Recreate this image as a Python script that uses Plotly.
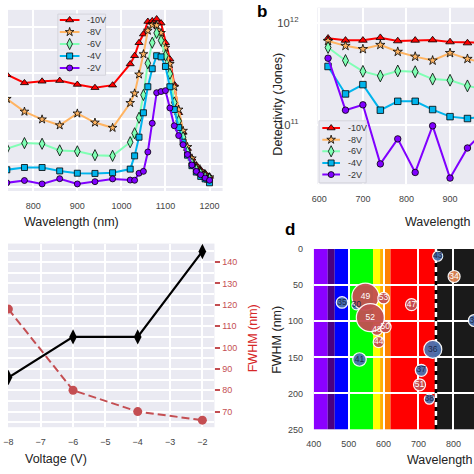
import plotly.graph_objects as go

FONT = "Liberation Sans, Arial, sans-serif"
W = H = 474

# ---------------- data ----------------
series_labels = ["-10V", "-8V", "-6V", "-4V", "-2V"]
series_colors = ["#ff0000", "#ffb462", "#80ffb4", "#00b4ec", "#8000ff"]
series_symbols = ["triangle-up", "star", "diamond-tall", "square", "circle"]

# (a) spectral response (relative units; y tick labels are cropped in the source)
wl_a = [740, 780, 820, 860, 900, 940, 980, 1020, 1030, 1040, 1050, 1060, 1070,
        1080, 1090, 1100, 1110, 1120, 1130, 1140, 1150, 1160, 1170, 1180, 1190, 1200]
a_m10 = [4.93, 4.57, 4.64, 4.67, 4.50, 4.36, 4.47, 5.40, 5.76, 6.33, 6.71, 7.26, 7.29,
         7.37, 7.19, 6.33, 5.61, 4.50, 3.26, 2.40, 1.69, 1.26, 0.97, 0.76, 0.61, 0.47]
a_m8 = [3.87, 3.31, 2.97, 2.71, 3.23, 2.83, 2.60, 3.69, 4.11, 4.94, 5.83, 6.86, 7.11,
        7.09, 6.76, 6.11, 5.40, 4.40, 3.40, 2.47, 1.76, 1.26, 0.90, 0.69, 0.54, 0.43]
a_m6 = [1.69, 1.93, 1.90, 1.61, 1.57, 1.40, 1.37, 1.97, 2.36, 3.04, 4.04, 5.43, 6.33,
        6.76, 6.43, 5.76, 4.97, 3.71, 2.90, 2.19, 1.54, 1.04, 0.76, 0.59, 0.44, 0.36]
a_m4 = [0.76, 0.86, 0.86, 0.71, 0.61, 0.60, 0.63, 0.79, 1.37, 2.19, 3.26, 4.40, 5.19,
        5.76, 5.71, 5.29, 4.40, 3.40, 2.61, 1.97, 1.40, 0.94, 0.66, 0.47, 0.36, 0.19]
a_m2 = [0.19, 0.29, 0.14, 0.37, 0.14, 0.24, 0.36, 0.31, 0.30, 0.61, 0.69, 1.54, 2.80,
        4.14, 4.19, 4.23, 3.47, 2.69, 2.26, 1.86, 1.43, 0.97, 0.69, 0.54, 0.40, 0.30]

# (b) detectivity (Jones)
wl_b = [620, 660, 700, 740, 780, 820, 860, 900, 940, 980]
d_m10 = [7.08e11, 6.76e11, 6.76e11, 7.18e11, 6.67e11, 6.76e11, 6.81e11, 6.52e11, 6.37e11, 6.40e11]
d_m8 = [6.67e11, 5.97e11, 5.55e11, 6.10e11, 5.22e11, 4.68e11, 4.29e11, 5.08e11, 4.45e11, 4.04e11]
d_m6 = [5.75e11, 4.29e11, 3.36e11, 3.03e11, 3.39e11, 3.33e11, 2.82e11, 2.75e11, 2.42e11, 2.24e11]
d_m4 = [3.75e11, 2.02e11, 2.49e11, 1.40e11, 1.71e11, 1.71e11, 1.42e11, 1.21e11, 1.16e11, 1.21e11]
d_m2 = [4.52e11, 1.40e11, 1.58e11, 4.17e10, 7.33e10, 3.44e10, 9.84e10, 3.03e10, 5.97e10, 8.87e10]

# (c) voltage dependence
volt_c = [-8, -6, -4, -2]
left_c = [86, 105, 105, 145]
fwhm_c = [118, 80, 70, 66]

# (d) literature comparison bubbles
ref_d = ["30", "34", "35", "36", "37", "38", "39", "41", "43", "44", "47", "48", "49", "50", "51", "52", "53"]
wl_d = [522, 802, 481, 741, 708, 731, 860, 531, 755, 586, 680, 581, 548, 605, 703, 562, 600]
fwhm_d = [78, 38, 74, 139, 168, 208, 99, 153, 10, 129, 77, 112, 66, 108, 188, 95, 68]
size_d = [9, 12, 11.5, 18, 12, 10, 12, 13.5, 10, 11, 12, 11, 27, 11.5, 12, 28, 11.5]
group_d = ["b", "o", "b", "b", "b", "b", "b", "b", "b", "r", "r", "r", "r", "r", "r", "r", "r"]
group_fill = {"b": "#4c72b0", "r": "#c44e52", "o": "#dd8452"}
group_text = {"b": "#1b2a4a", "r": "white", "o": "white"}

# visible-spectrum bands (nm)
band_edges = [400, 440, 460, 500, 570, 590, 600, 620, 750, 900]
band_colors = ["#8b00ff", "#4b0082", "#0000ff", "#00ff00", "#ffff00", "#ffb000", "#ff8000", "#ff0000", "#1a1a1a"]
nir_edge = 750

marker_sizes = [7, 6.5, 8, 6, 6]


def px(p):
    return p / W


def py(p):
    return 1 - p / H


fig = go.Figure()

# ---- panel a ----
for lab, col, sym, ys, ms in zip(series_labels, series_colors, series_symbols,
                                 [a_m10, a_m8, a_m6, a_m4, a_m2], marker_sizes):
    fig.add_trace(go.Scatter(x=wl_a, y=ys, mode="lines+markers", name=lab, xaxis="x", yaxis="y",
                             line=dict(color=col, width=2),
                             marker=dict(symbol=sym, size=ms, color=col, line=dict(color="black", width=0.8)),
                             showlegend=False))

# ---- panel b ----
for lab, col, sym, ys, ms in zip(series_labels, series_colors, series_symbols,
                                 [d_m10, d_m8, d_m6, d_m4, d_m2], marker_sizes):
    fig.add_trace(go.Scatter(x=wl_b, y=ys, mode="lines+markers", name=lab, xaxis="x2", yaxis="y2",
                             line=dict(color=col, width=2),
                             marker=dict(symbol=sym, size=ms + 0.5, color=col, line=dict(color="black", width=0.8)),
                             showlegend=False))

# ---- panel c ----
fig.add_trace(go.Scatter(x=volt_c, y=left_c, mode="lines+markers", xaxis="x3", yaxis="y3",
                         line=dict(color="black", width=2.2),
                         marker=dict(symbol="diamond-tall", size=11, color="black"), showlegend=False))
fig.add_trace(go.Scatter(x=volt_c, y=fwhm_c, mode="lines+markers", xaxis="x3", yaxis="y4",
                         line=dict(color="#c44e52", width=2, dash="8px,4px"),
                         marker=dict(symbol="circle", size=9, color="#c44e52"), showlegend=False))

# ---- panel d ----
fig.add_trace(go.Scatter(x=wl_d, y=fwhm_d, mode="markers+text", xaxis="x5", yaxis="y5",
                         text=ref_d, textposition="middle center",
                         textfont=dict(size=8.5, family=FONT, color=[group_text[g] for g in group_d]),
                         marker=dict(size=size_d, sizemode="diameter", opacity=0.95,
                                     color=[group_fill[g] for g in group_d],
                                     line=dict(color="white", width=1.2)),
                         showlegend=False, cliponaxis=True))

# ---- custom compact legends (drawn on hidden helper axes) ----
def add_legend(xax, yax, x_line0, x_line1, x_mark, x_text, sizes):
    for i, (lab, col, sym, ms) in enumerate(zip(series_labels, series_colors, series_symbols, sizes)):
        fig.add_trace(go.Scatter(x=[x_line0, x_line1], y=[i, i], mode="lines", xaxis=xax, yaxis=yax,
                                 line=dict(color=col, width=2), showlegend=False, hoverinfo="skip"))
        fig.add_trace(go.Scatter(x=[x_mark], y=[i], mode="markers", xaxis=xax, yaxis=yax,
                                 marker=dict(symbol=sym, size=ms, color=col, line=dict(color="black", width=0.8)),
                                 showlegend=False, hoverinfo="skip"))
        fig.add_annotation(x=x_text, y=i, xref=xax, yref=yax, text=lab, showarrow=False,
                           xanchor="left", yanchor="middle", font=dict(size=9, color="#333", family=FONT))


add_legend("x6", "y6", 0.041, 0.453, 0.247, 0.56, marker_sizes)
add_legend("x7", "y7", 0.071, 0.446, 0.258, 0.565, marker_sizes)

axis_base = dict(showgrid=True, gridcolor="white", gridwidth=1.5, zeroline=False, showline=False,
                 tickfont=dict(size=9, color="#444", family=FONT), ticks="outside",
                 tickcolor="rgba(0,0,0,0)")

layout = dict(
    width=W, height=H, margin=dict(l=0, r=0, t=0, b=0),
    paper_bgcolor="white", plot_bgcolor="#eaeaf2", font=dict(family=FONT),
    xaxis=dict(axis_base, domain=[0, px(218.3)], range=[742.67, 1229.7], tick0=0, dtick=100,
               ticklen=6, anchor="y"),
    yaxis=dict(axis_base, domain=[py(190), py(5)], range=[-0.17, 7.77], tick0=0, dtick=1,
               showticklabels=False, ticklen=0, anchor="x"),
    xaxis2=dict(axis_base, domain=[px(314.7), 1], range=[595.5, 955], tick0=0, dtick=100,
                ticklen=6, anchor="y2"),
    yaxis2=dict(axis_base, domain=[py(183), py(2.7)], type="log", range=[10.422, 12.15], dtick=1,
                exponentformat="power", ticklen=16, anchor="x2"),
    xaxis3=dict(axis_base, domain=[0, px(210)], range=[-8.012, -1.626], tick0=0, dtick=1,
                ticklen=6, anchor="y3"),
    yaxis3=dict(axis_base, domain=[py(431.3), py(243.7)], range=[62.7, 148.7], tick0=5, dtick=10,
                showticklabels=False, ticklen=0, anchor="x3"),
    yaxis4=dict(axis_base, overlaying="y3", side="right", range=[62.7, 148.7], tick0=0, dtick=10,
                tickvals=[70, 80, 90, 100, 110, 120, 130, 140], ticklen=5, tickwidth=1.5,
                tickcolor="#c44e52", tickfont=dict(size=9, color="#c44e52", family=FONT), anchor="x3"),
    xaxis5=dict(axis_base, domain=[px(311), 1], range=[400, 859], tick0=0, dtick=100,
                ticklen=6, anchor="y5"),
    yaxis5=dict(axis_base, domain=[py(433.7), py(249.3)], range=[250, 0], tick0=0, dtick=50,
                ticklen=8, anchor="x5"),
    xaxis6=dict(domain=[px(50.7), px(99.3)], range=[0, 1], visible=False, anchor="y6"),
    yaxis6=dict(domain=[py(71.7), py(9.3)], range=[4.6, -0.49], visible=False, anchor="x6"),
    xaxis7=dict(domain=[px(316.3), px(364.3)], range=[0, 1], visible=False, anchor="y7"),
    yaxis7=dict(domain=[py(181.7), py(118.3)], range=[4.71, -0.62], visible=False, anchor="x7"),
)
fig.update_layout(**layout)

# spectrum bands in panel d (below gridlines)
for x0, x1, c in zip(band_edges[:-1], band_edges[1:], band_colors):
    fig.add_shape(type="rect", xref="x5", yref="y5", x0=x0, x1=x1, y0=0, y1=250,
                  fillcolor=c, line=dict(width=0), layer="below")
fig.add_shape(type="line", xref="x5", yref="y5", x0=nir_edge, x1=nir_edge, y0=0, y1=250,
              line=dict(color="black", width=2.5), layer="between")
fig.add_shape(type="line", xref="x5", yref="y5", x0=nir_edge, x1=nir_edge, y0=0, y1=250,
              line=dict(color="white", width=2.5, dash="5px,4px"), layer="between")

# legend frames
for xr, yr in [("x6", "y6"), ("x7", "y7")]:
    fig.add_shape(type="rect", xref=xr + " domain", yref=yr + " domain", x0=0, x1=1, y0=0, y1=1,
                  line=dict(color="#d4d4dc", width=1), fillcolor="rgba(0,0,0,0)", layer="above")


def title(text, x, y, size=12.5, color="#222", angle=0, xanchor="center", bold=False):
    fig.add_annotation(x=px(x), y=py(y), xref="paper", yref="paper", text=text, showarrow=False,
                       xanchor=xanchor, yanchor="middle", textangle=angle,
                       font=dict(size=size, color=color, family=FONT, weight="bold" if bold else "normal"))


title("Wavelength (nm)", 65, 221.7)
title("Wavelength (nm)", 402, 221.7, xanchor="left")
title("Detectivity (Jones)", 273.7, 101.7, angle=-90)
title("Voltage (V)", 49, 463.7)
title("FWHM (nm)", 248.7, 341, color="#d62728", angle=-90)
title("FWHM (nm)", 273.7, 342, angle=-90)
title("Wavelength (nm)", 403.7, 465.3, xanchor="left")
title("b", 258.7, 7, size=17, color="black", bold=True)
title("d", 287, 229.5, size=17, color="black", bold=True)

fig.write_html("out.html", config={"displayModeBar": False},
               post_script="document.body.style.margin='0px';document.body.style.overflow='hidden';")
